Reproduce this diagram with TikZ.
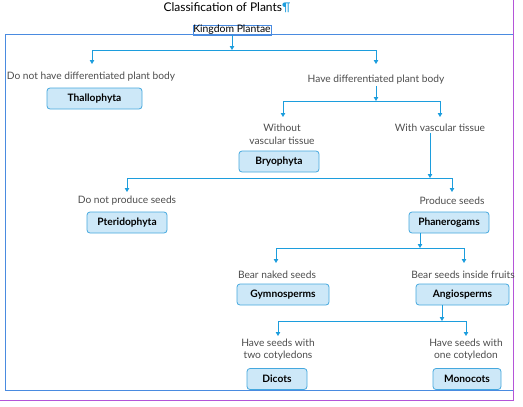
\documentclass[tikz,border=0pt]{standalone}
\usepackage{fontspec}
\setmainfont{Lato}
\usetikzlibrary{arrows.meta}
\definecolor{linkblue}{HTML}{1C9DDD}
\definecolor{boxedge}{HTML}{45A8DE}
\definecolor{boxfill}{HTML}{CDE8F8}
\definecolor{framebl}{HTML}{4A8BE0}
\definecolor{margin}{HTML}{B455D8}
\begin{document}
\begin{tikzpicture}[x=1pt, y=-1pt,
    conn/.style={draw=linkblue, line width=0.9pt, -{Triangle[length=4pt,width=4.5pt]}},
    grp/.style={draw=boxedge, fill=boxfill, rounded corners=3pt, line width=0.8pt,
        minimum height=21pt, inner sep=0pt, font=\fontsize{10.2}{11}\selectfont\bfseries},
    txt/.style={font=\fontsize{10.2}{12.5}\selectfont, text=black!70, align=center, inner sep=1pt}]
    \useasboundingbox (0,0) rectangle (523,407);
    % page marks
    \draw[framebl, line width=0.5pt] (5,34) rectangle (513,390);
    \draw[margin, line width=0.6pt] (513,0) -- (513,400) -- (0,400);
    % heading
    \node[font=\fontsize{12}{14}\selectfont] (title) at (227,8) {Classification of Plants\textcolor{linkblue}{¶}};
    \node[draw=framebl, line width=0.4pt, inner sep=0.5pt, font=\fontsize{10.4}{11}\selectfont] (kp) at (232,30) {Kingdom Plantae};
    % level 1
    \node[txt] (nodiff) at (91,77) {Do not have differentiated plant body};
    \node[grp, minimum width=95pt] (thal) at (94.5,98.5) {Thallophyta};
    \node[txt] (diff) at (376,80) {Have differentiated plant body};
    % level 2
    \node[txt] (novasc) at (282,134.5) {Without\\vascular tissue};
    \node[grp, minimum width=80pt] (bryo) at (279,161.5) {Bryophyta};
    \node[txt] (vasc) at (440,128) {With vascular tissue};
    % level 3
    \node[txt] (noseed) at (127,201) {Do not produce seeds};
    \node[grp, minimum width=80pt] (pter) at (127,222.5) {Pteridophyta};
    \node[txt] (seed) at (452,201) {Produce seeds};
    \node[grp, minimum width=80pt] (phan) at (449,222.5) {Phanerogams};
    % level 4
    \node[txt] (naked) at (277,275) {Bear naked seeds};
    \node[grp, minimum width=92pt] (gymno) at (283,294.5) {Gymnosperms};
    \node[txt] (fruit) at (463,275) {Bear seeds inside fruits};
    \node[grp, minimum width=93pt] (angio) at (462.5,294.5) {Angiosperms};
    % level 5
    \node[txt] (twocot) at (278,349.5) {Have seeds with\\two cotyledons};
    \node[grp, minimum width=60pt] (dicot) at (277,379) {Dicots};
    \node[txt] (onecot) at (466,349.5) {Have seeds with\\one cotyledon};
    \node[grp, minimum width=68pt] (monocot) at (467,379) {Monocots};
    % branch points and arrow ends
    \coordinate (b1) at (232,50);
    \coordinate (b2) at (376,101);
    \coordinate (b3) at (430,178);
    \coordinate (b4) at (420,248);
    \coordinate (b5) at (442,321);
    \coordinate (t11) at (92,64);  \coordinate (t12) at (376,64);
    \coordinate (t21) at (283,117); \coordinate (t22) at (440,117);
    \coordinate (t31) at (127,192); \coordinate (t32) at (452,192);
    \coordinate (t41) at (276,263); \coordinate (t42) at (464,263);
    \coordinate (t51) at (278,336); \coordinate (t52) at (466,336);
    % connectors
    \draw[conn] (kp) -- (b1);
    \draw[conn] (b1) -| (t11);
    \draw[conn] (b1) -| (t12);
    \draw[conn] (diff) -- (b2);
    \draw[conn] (b2) -| (t21);
    \draw[conn] (b2) -| (t22);
    \draw[conn] (vasc.south -| b3) -- (b3);
    \draw[conn] (b3) -| (t31);
    \draw[conn] (b3) -| (t32);
    \draw[conn] (phan.south -| b4) -- (b4);
    \draw[conn] (b4) -| (t41);
    \draw[conn] (b4) -| (t42);
    \draw[conn] (angio.south -| b5) -- (b5);
    \draw[conn] (b5) -| (t51);
    \draw[conn] (b5) -| (t52);
\end{tikzpicture}
\end{document}
